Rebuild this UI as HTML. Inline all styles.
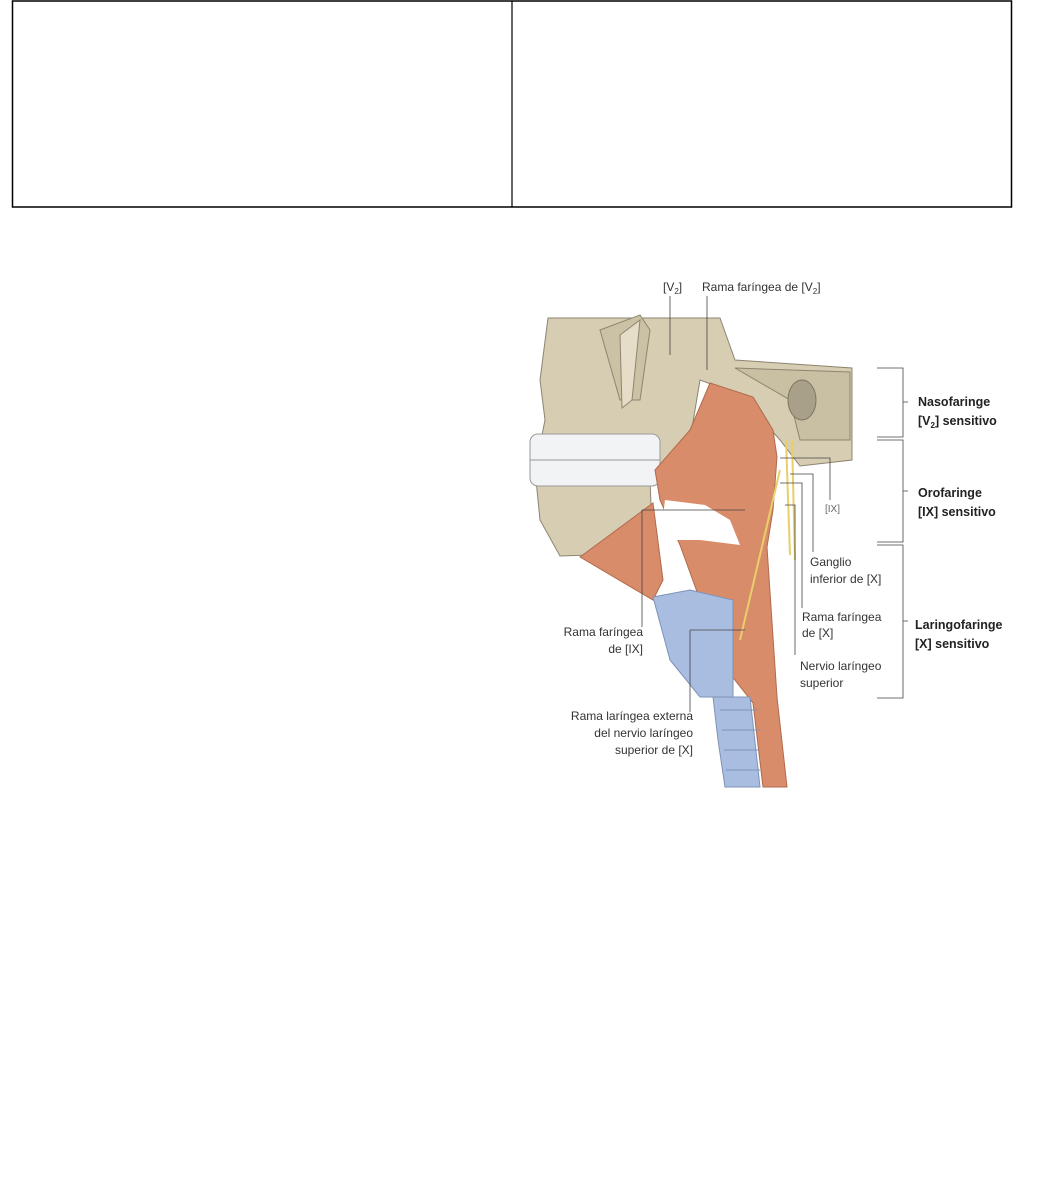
<!DOCTYPE html>
<html><head><meta charset="utf-8"><style>
html,body{margin:0;padding:0;background:#fff;width:1039px;height:1182px;overflow:hidden;font-family:"Liberation Sans",sans-serif}
</style></head><body>
<svg width="1039" height="1182" viewBox="0 0 1039 1182" xmlns="http://www.w3.org/2000/svg" style="position:absolute;left:0;top:0">
<rect x="12.5" y="1" width="999" height="206" fill="none" stroke="#000" stroke-width="1.5"/>
<line x1="512" y1="1" x2="512" y2="207" stroke="#000" stroke-width="1.2"/>

<!-- bone -->
<polygon points="548,318 720,318 735,360 852,368 852,460 800,466 780,440 740,395 700,380 690,440 650,480 653,553 560,556 540,520 535,470 545,420 540,380" fill="#d6cdb3" stroke="#8d856f" stroke-width="1"/>
<polygon points="600,330 640,315 650,330 640,400 620,400" fill="#cbc2a6" stroke="#8d856f"/>
<polygon points="620,335 640,320 632,400 622,408" fill="#e6ddc8" stroke="#8d856f"/>
<polygon points="735,368 850,372 850,440 800,440 790,400" fill="#c9c0a4" stroke="#8d856f"/>
<ellipse cx="802" cy="400" rx="14" ry="20" fill="#a8a089" stroke="#7d7560"/>
<!-- teeth -->
<rect x="530" y="434" width="130" height="52" rx="8" fill="#f1f3f5" stroke="#9a9a9a"/>
<line x1="530" y1="460" x2="660" y2="460" stroke="#9a9a9a"/>
<!-- muscle -->
<polygon points="710,383 753,397 773,430 777,457 773,510 767,547 777,697 787,787 763,787 753,703 727,670 700,600 680,545 660,500 655,470 690,430" fill="#d98c6a" stroke="#b06a4c"/>
<polygon points="580,557 653,503 663,580 653,600" fill="#d98c6a" stroke="#b06a4c"/>
<polygon points="665,500 705,505 730,520 740,545 700,540 660,540" fill="#fff"/>
<!-- larynx -->
<polygon points="653,597 690,590 733,600 733,697 700,697 670,660" fill="#a9bde0" stroke="#7f93b8"/>
<polygon points="713,697 750,697 760,787 725,787 718,740" fill="#a9bde0" stroke="#7f93b8"/>
<path d="M720 710h38M722 730h38M724 750h36M726 770h34" stroke="#7f93b8"/>
<!-- nerves -->
<path d="M786 440 L790 555 M792 440 L795 560 M780 470 L740 640" stroke="#e8cf6a" stroke-width="2" fill="none"/>

<g fill="none" stroke="#444" stroke-width="0.8">
<path d="M670 296 V355 M707 296 V370"/>
<path d="M877 368 H903 V437 H877 M903 402 H908"/>
<path d="M877 440 H903 V542 H877 M903 491 H908"/>
<path d="M877 545 H903 V698 H877 M903 621 H908"/>
<path d="M780 458 H830 V500"/>
<path d="M790 474 H813 V552"/>
<path d="M780 483 H802 V608"/>
<path d="M785 505 H795 V655"/>
<path d="M642 510 H745 M642 510 V627"/>
<path d="M690 630 H745 M690 630 V712"/>
</g>

<g font-size="12" fill="#333">
<text x="663" y="291">[V<tspan font-size="8" dy="3">2</tspan><tspan dy="-3">]</tspan></text>
<text x="702" y="291">Rama faríngea de [V<tspan font-size="8" dy="3">2</tspan><tspan dy="-3">]</tspan></text>
<text x="825" y="512" font-size="10" fill="#666">[IX]</text>
<text x="810" y="566">Ganglio</text>
<text x="810" y="583">inferior de [X]</text>
<text x="802" y="621">Rama faríngea</text>
<text x="802" y="637">de [X]</text>
<text x="800" y="670">Nervio laríngeo</text>
<text x="800" y="687">superior</text>
<text x="643" y="636" text-anchor="end">Rama faríngea</text>
<text x="643" y="653" text-anchor="end">de [IX]</text>
<text x="693" y="720" text-anchor="end">Rama laríngea externa</text>
<text x="693" y="737" text-anchor="end">del nervio laríngeo</text>
<text x="693" y="754" text-anchor="end">superior de [X]</text>
</g>
<g font-size="12.5" font-weight="bold" fill="#222">
<text x="918" y="406">Nasofaringe</text>
<text x="918" y="425">[V<tspan font-size="8" dy="3">2</tspan><tspan dy="-3">] sensitivo</tspan></text>
<text x="918" y="497">Orofaringe</text>
<text x="918" y="516">[IX] sensitivo</text>
<text x="915" y="629">Laringofaringe</text>
<text x="915" y="648">[X] sensitivo</text>
</g>
</svg>
</body></html>
